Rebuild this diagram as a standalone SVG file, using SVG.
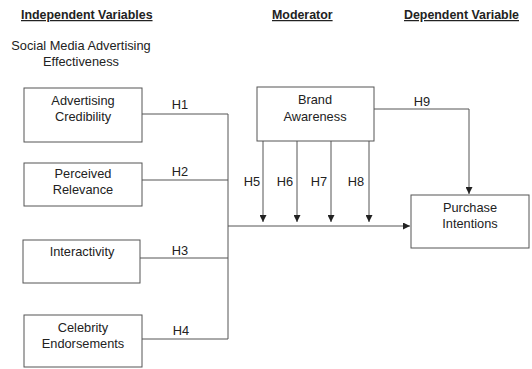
<svg xmlns="http://www.w3.org/2000/svg" width="532" height="369" viewBox="0 0 532 369">
<defs>
<style>
text{font-family:"Liberation Sans",Arial,sans-serif;font-size:12.8px;fill:#222}
.h{font-weight:bold;text-decoration:underline;font-size:12.4px}
.c{text-anchor:middle}
rect{fill:#fff;stroke:#555;stroke-width:1}
.ln{fill:none;stroke:#555;stroke-width:1}
</style>
<marker id="a" viewBox="0 0 8 8" refX="8" refY="4" markerWidth="7" markerHeight="7" orient="auto" markerUnits="userSpaceOnUse">
<path d="M0,0 L8,4 L0,8 Z" fill="#222"/>
</marker>
</defs>
<rect x="0" y="0" width="532" height="369" style="stroke:none"/>
<g id="headers">
<text class="h" x="21" y="19">Independent Variables</text>
<text class="h" x="272" y="19">Moderator</text>
<text class="h" x="404" y="19">Dependent Variable</text>
<text class="c" x="81" y="50">Social Media Advertising</text>
<text class="c" x="81" y="66">Effectiveness</text>
</g>
<g id="connectors">
<polyline class="ln" points="142,114 228,114 228,339 142,339"/>
<line class="ln" x1="142" y1="180" x2="228" y2="180"/>
<line class="ln" x1="140" y1="258" x2="228" y2="258"/>
<line class="ln" x1="228" y1="226" x2="410" y2="226" marker-end="url(#a)"/>
<line class="ln" x1="263" y1="141" x2="263" y2="222" marker-end="url(#a)"/>
<line class="ln" x1="297" y1="141" x2="297" y2="222" marker-end="url(#a)"/>
<line class="ln" x1="331" y1="141" x2="331" y2="222" marker-end="url(#a)"/>
<line class="ln" x1="369" y1="141" x2="369" y2="222" marker-end="url(#a)"/>
<polyline class="ln" points="374,109 469,109 469,194" marker-end="url(#a)"/>
<text class="c" x="180" y="109">H1</text>
<text class="c" x="180" y="176">H2</text>
<text class="c" x="180" y="255">H3</text>
<text class="c" x="181" y="335">H4</text>
<text class="c" x="252" y="186">H5</text>
<text class="c" x="285" y="186">H6</text>
<text class="c" x="319" y="186">H7</text>
<text class="c" x="356" y="186">H8</text>
<text class="c" x="422" y="106">H9</text>
</g>
<g id="n1">
<rect x="24" y="88" width="118" height="54"/>
<text class="c" x="83" y="105">Advertising</text>
<text class="c" x="83" y="121">Credibility</text>
</g>
<g id="n2">
<rect x="24" y="163" width="118" height="43"/>
<text class="c" x="83" y="178">Perceived</text>
<text class="c" x="83" y="194">Relevance</text>
</g>
<g id="n3">
<rect x="23" y="240" width="117" height="43"/>
<text class="c" x="82" y="256">Interactivity</text>
</g>
<g id="n4">
<rect x="24" y="315" width="118" height="52"/>
<text class="c" x="83" y="332">Celebrity</text>
<text class="c" x="83" y="348">Endorsements</text>
</g>
<g id="n5">
<rect x="257" y="87" width="117" height="54"/>
<text class="c" x="315" y="104">Brand</text>
<text class="c" x="315" y="121">Awareness</text>
</g>
<g id="n6">
<rect x="411" y="195" width="118" height="53"/>
<text class="c" x="470" y="212">Purchase</text>
<text class="c" x="470" y="228">Intentions</text>
</g>
</svg>
